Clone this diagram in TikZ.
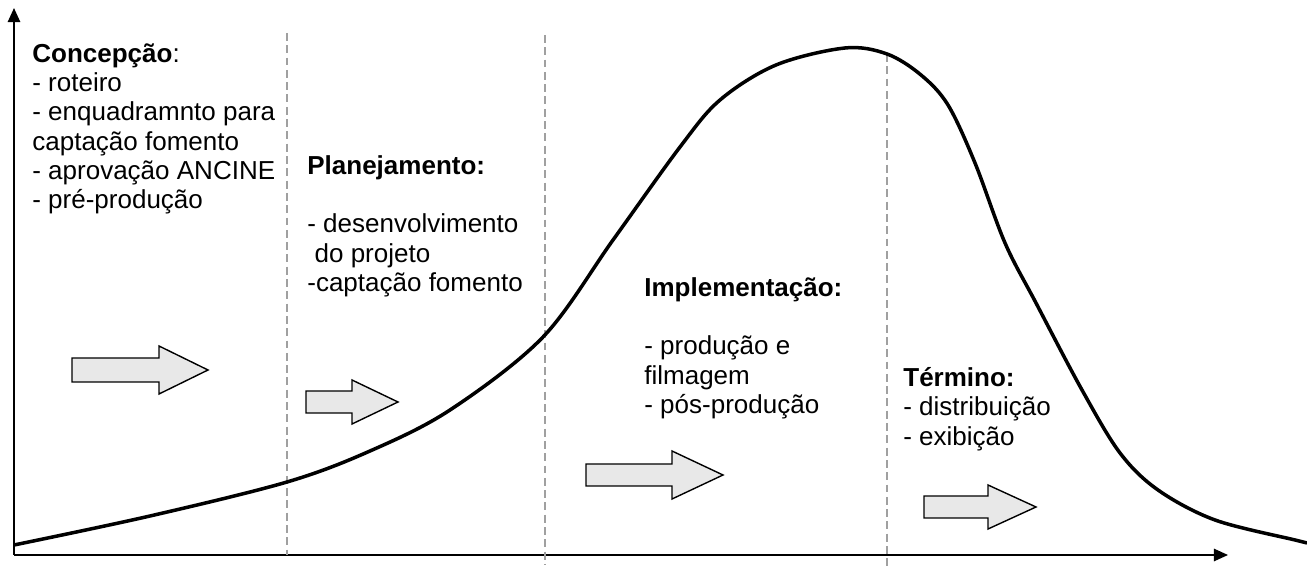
\documentclass[tikz,border=0pt]{standalone}
\usepackage{fontspec}
\setmainfont{Liberation Sans}
\usetikzlibrary{arrows.meta}
\definecolor{cinza}{RGB}{160,160,160}
\definecolor{seta}{RGB}{232,232,232}
\tikzset{
  fase/.style={anchor=north west,inner sep=0pt,align=left,
    font=\fontsize{14.8}{16.7}\selectfont},
  divisa/.style={cinza,line width=0.8pt,dash pattern=on 4.5pt off 2.5pt},
  bloco/.style={draw=black,fill=seta,line width=0.8pt,line join=miter},
  eixo/.style={line width=1pt,-{Triangle[length=8pt,width=7pt]}}
}
\begin{document}
\begin{tikzpicture}[x=0.2mm,y=0.2mm]
\useasboundingbox (0,0) rectangle (1307,567);
% eixos
\coordinate (origem) at (14,12);
\coordinate (topo) at (14,559);
\coordinate (fim) at (1228,12);
\draw [eixo] (origem) -- (topo);
\draw [eixo] (origem) -- (fim);
% divisoes das fases
\draw [divisa] (287,534) -- (287,12);
\draw [divisa] (545,532) -- (545,2);
\draw [divisa] (887,513) -- (887,0);
% curva do ciclo de vida
\draw [line width=2pt,line join=round] plot [smooth,tension=0.55] coordinates {
  (14,22) (150,51) (287,85) (370,116) (450,157) (543,230)
  (613,327) (680,420) (720,467) (776,502) (845,519) (887,513)
  (921,492) (948,462) (975,404) (1005,324) (1036,264) (1082,177)
  (1120,114) (1158,77) (1215,47) (1295,27) (1307,24)};
% setas
\draw [bloco] (72,209) -- (159,209) -- (159,221) -- (208,197) -- (159,173) -- (159,185) -- (72,185) -- cycle;
\draw [bloco] (306,176) -- (352,176) -- (352,187) -- (398,165) -- (352,143) -- (352,154) -- (306,154) -- cycle;
\draw [bloco] (586,103) -- (672,103) -- (672,116) -- (723,92) -- (672,68) -- (672,81) -- (586,81) -- cycle;
\draw [bloco] (924,71) -- (988,71) -- (988,82) -- (1036,60) -- (988,38) -- (988,49) -- (924,49) -- cycle;
% textos
\node [fase] (concepcao) at (32,524) {\textbf{Concepção}:\\
  - roteiro\\
  - enquadramnto para\\
  captação fomento\\
  - aprovação ANCINE\\
  - pré-produção};
\node [fase] (planejamento) at (307,412) {\textbf{Planejamento:}\\[16.7pt]
  - desenvolvimento\\
  \hspace*{0.28em}do projeto\\
  -captação fomento};
\node [fase] (implementacao) at (644,290) {\textbf{Implementação:}\\[16.7pt]
  - produção e\\
  filmagem\\
  - pós-produção};
\node [fase] (termino) at (903,200) {\textbf{Término:}\\
  - distribuição\\
  - exibição};
\end{tikzpicture}
\end{document}
